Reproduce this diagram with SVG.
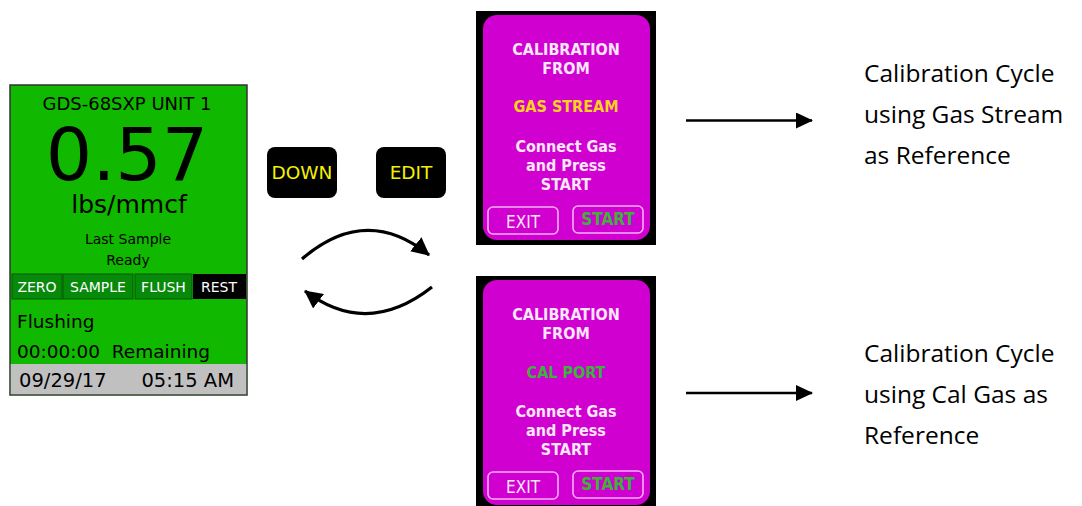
<svg xmlns="http://www.w3.org/2000/svg" width="1082" height="506" viewBox="0 0 1082 506">
<defs>
<style>
.dv{font-family:"DejaVu Sans","Liberation Sans",sans-serif}
.wt{fill:#ffffff}
.btn{fill:#07890a;stroke:#045a05;stroke-width:1}
.key{fill:#000}
.keytxt{font-family:"DejaVu Sans",sans-serif;font-size:18.5px;fill:#f2f200;text-anchor:middle}
.scr{fill:#d000d0}
.st{font-family:"DejaVu Sans Condensed","DejaVu Sans",sans-serif;font-weight:bold;font-size:16px;fill:#fbe6fb;text-anchor:middle}
.sbox{fill:none;stroke:#f4b0f4;stroke-width:1.6}
.exit{font-family:"DejaVu Sans Condensed","DejaVu Sans",sans-serif;font-size:17px;fill:#fbe6fb;text-anchor:middle}
.cap{font-family:"Open Sans","Liberation Sans",sans-serif;font-size:24.5px;fill:#000}
.arc{fill:none;stroke:#000;stroke-width:3.2}
.ln{stroke:#000;stroke-width:2.6}
</style>
<marker id="ah" viewBox="0 0 17 16" refX="16" refY="8" markerWidth="17" markerHeight="16" markerUnits="userSpaceOnUse" orient="auto">
<path d="M0,0 L17,8 L0,16 Z" fill="#000"/>
</marker>
<marker id="ah2" viewBox="0 0 18 18" refX="17" refY="9" markerWidth="18" markerHeight="18" markerUnits="userSpaceOnUse" orient="auto">
<path d="M0,0 L18,9 L0,18 Z" fill="#000"/>
</marker>
</defs>

<g id="main-display">
<rect x="10" y="85" width="237" height="310" fill="#10b800" stroke="#333" stroke-width="1.5"/>
<rect x="10.75" y="364" width="235.5" height="30.25" fill="#c0c0c0"/>
<text class="dv" x="127" y="110" font-size="18" text-anchor="middle">GDS-68SXP UNIT 1</text>
<text class="dv" x="127" y="180" font-size="73" text-anchor="middle">0.57</text>
<text class="dv" x="129" y="213" font-size="25" text-anchor="middle">lbs/mmcf</text>
<text class="dv" x="128" y="244" font-size="14" text-anchor="middle">Last Sample</text>
<text class="dv" x="128" y="265" font-size="14" text-anchor="middle">Ready</text>
<rect class="btn" x="12" y="274" width="50" height="25"/>
<rect class="btn" x="63" y="274" width="70" height="25"/>
<rect class="btn" x="135" y="274" width="57" height="25"/>
<rect x="193" y="274" width="53" height="25" fill="#000"/>
<text class="dv wt" x="37" y="292" font-size="14" text-anchor="middle">ZERO</text>
<text class="dv wt" x="98" y="292" font-size="14" text-anchor="middle">SAMPLE</text>
<text class="dv wt" x="163.5" y="292" font-size="14" text-anchor="middle">FLUSH</text>
<text class="dv wt" x="219" y="292" font-size="14" text-anchor="middle">REST</text>
<text class="dv" x="17" y="328" font-size="18.5">Flushing</text>
<text class="dv" x="17" y="358" font-size="18.5" xml:space="preserve">00:00:00  Remaining</text>
<text class="dv" x="19" y="387" font-size="19.5">09/29/17</text>
<text class="dv" x="234" y="387" font-size="19.5" text-anchor="end">05:15 AM</text>
</g>

<g id="key-down">
<rect class="key" x="267" y="147" width="70" height="51" rx="8"/>
<text class="keytxt" x="302" y="179">DOWN</text>
</g>
<g id="key-edit">
<rect class="key" x="376" y="147" width="70" height="51" rx="8"/>
<text class="keytxt" x="411" y="179">EDIT</text>
</g>

<g id="screen-gas-stream">
<rect x="476" y="11" width="180" height="234" fill="#000"/>
<rect class="scr" x="483" y="15" width="167" height="225" rx="14"/>
<text class="st" x="566" y="55">CALIBRATION</text>
<text class="st" x="566" y="74">FROM</text>
<text class="st" x="566" y="112" style="fill:#ffd21e">GAS STREAM</text>
<text class="st" x="566" y="152">Connect Gas</text>
<text class="st" x="566" y="171">and Press</text>
<text class="st" x="566" y="190">START</text>
<rect class="sbox" x="488" y="207" width="70" height="27" rx="5"/>
<text class="exit" x="523" y="228">EXIT</text>
<rect class="sbox" x="573" y="206" width="70" height="27" rx="5"/>
<text class="st" x="608" y="225" style="fill:#3cb43c;font-size:17px">START</text>
</g>

<g id="screen-cal-port">
<rect x="476" y="276" width="180" height="230" fill="#000"/>
<rect class="scr" x="483" y="280" width="167" height="225" rx="14"/>
<text class="st" x="566" y="320">CALIBRATION</text>
<text class="st" x="566" y="339">FROM</text>
<text class="st" x="566" y="378" style="fill:#3cb43c">CAL PORT</text>
<text class="st" x="566" y="417">Connect Gas</text>
<text class="st" x="566" y="436">and Press</text>
<text class="st" x="566" y="455">START</text>
<rect class="sbox" x="488" y="472" width="70" height="27" rx="5"/>
<text class="exit" x="523" y="493">EXIT</text>
<rect class="sbox" x="573" y="471" width="70" height="27" rx="5"/>
<text class="st" x="608" y="490" style="fill:#3cb43c;font-size:17px">START</text>
</g>

<g id="label-gas-stream">
<text class="cap" x="864" y="82">Calibration Cycle</text>
<text class="cap" x="864" y="123">using Gas Stream</text>
<text class="cap" x="864" y="164">as Reference</text>
</g>
<g id="label-cal-gas">
<text class="cap" x="864" y="362">Calibration Cycle</text>
<text class="cap" x="864" y="403">using Cal Gas as</text>
<text class="cap" x="864" y="444">Reference</text>
</g>

<g id="connectors">
<path class="arc" d="M302,259 Q366,204 429,255" marker-end="url(#ah2)"/>
<path class="arc" d="M432,287 Q367,338 305,291" marker-end="url(#ah2)"/>
<line class="ln" x1="686" y1="120.5" x2="812" y2="120.5" marker-end="url(#ah)"/>
<line class="ln" x1="686" y1="393" x2="812" y2="393" marker-end="url(#ah)"/>
</g>
</svg>
